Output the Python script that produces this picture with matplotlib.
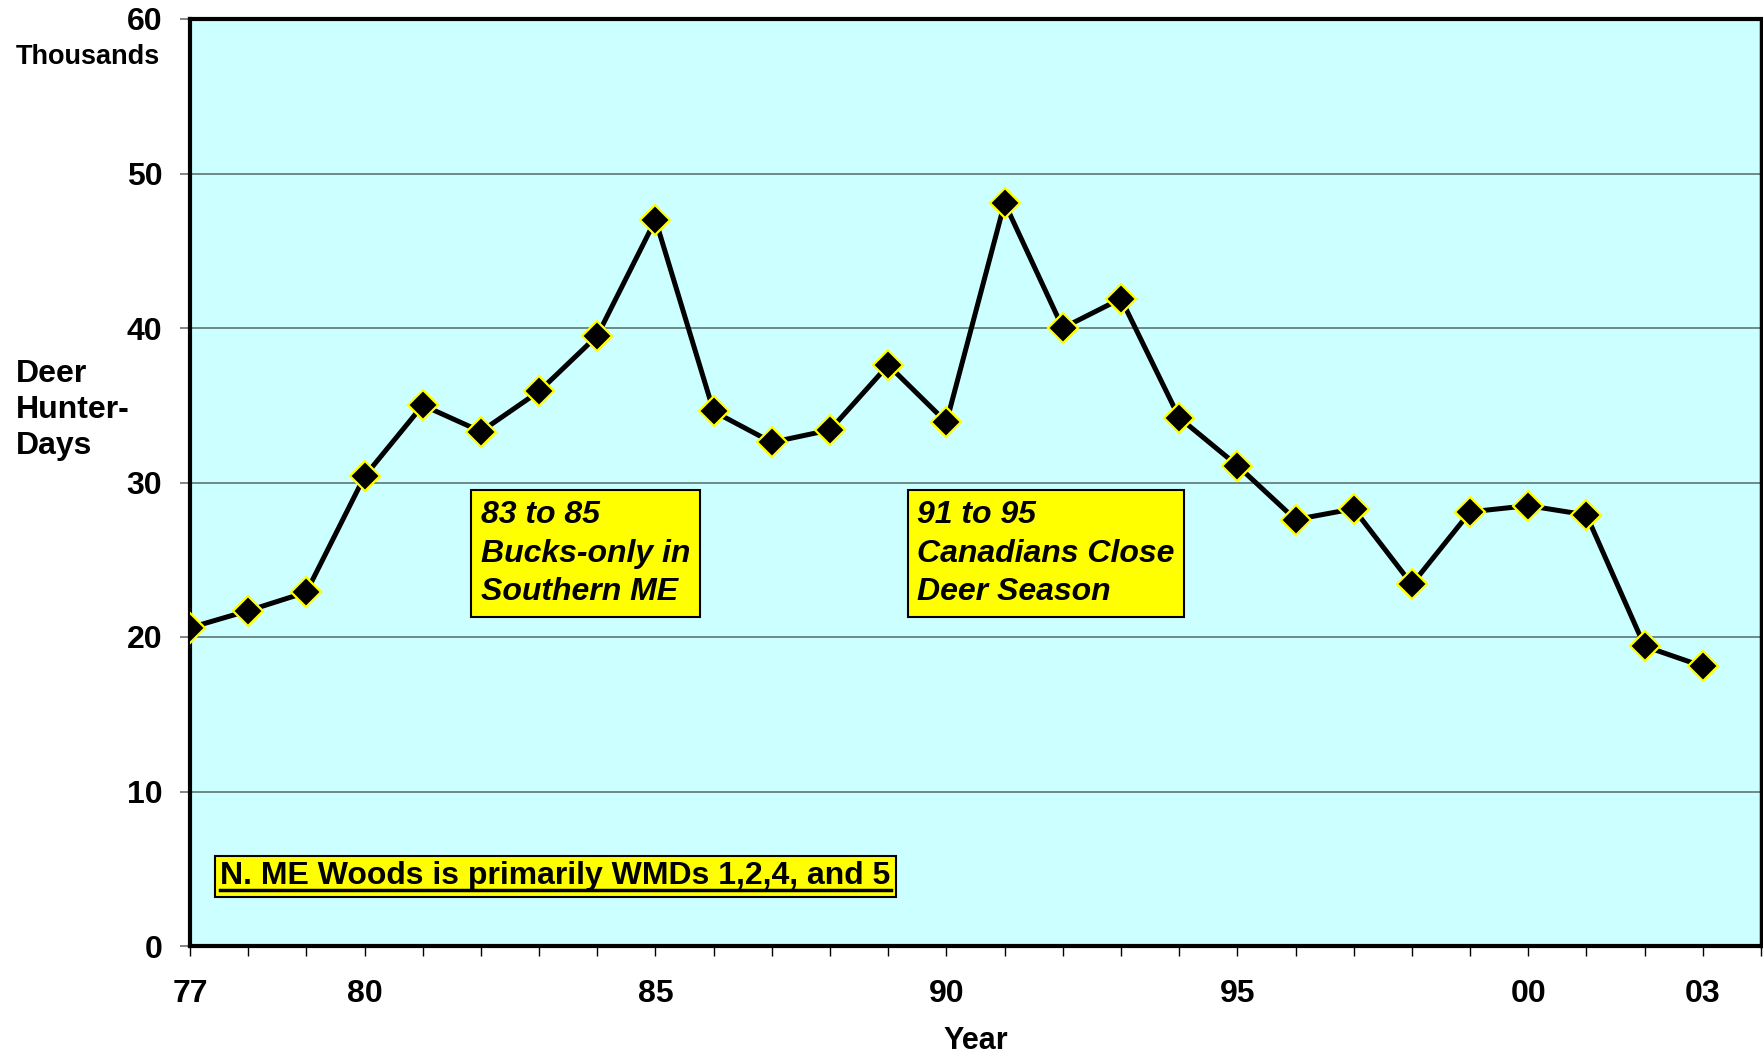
import matplotlib
matplotlib.use("Agg")
import matplotlib.pyplot as plt
from matplotlib.lines import Line2D

plt.rcParams["font.family"] = ["Liberation Sans", "DejaVu Sans"]
plt.rcParams["font.weight"] = "bold"
plt.rcParams["axes.labelweight"] = "bold"

# Данные: охотничьи дни (тыс.) по годам
years = list(range(1977, 2004))
hunter_days = [20.6, 21.7, 22.9, 30.4, 35.0, 33.3, 35.9, 39.5, 47.0, 34.6,
               32.6, 33.4, 37.6, 33.9, 48.1, 40.0, 41.9, 34.2, 31.1, 27.6,
               28.3, 23.4, 28.1, 28.5, 27.9, 19.4, 18.1]
tick_years = [1977, 1980, 1985, 1990, 1995, 2000, 2003]
tick_labels = ["77", "80", "85", "90", "95", "00", "03"]
y_ticks = [0, 10, 20, 30, 40, 50, 60]

fig = plt.figure(figsize=(17.63, 10.56), dpi=100)
ax = fig.add_axes([190 / 1763, 1 - 946 / 1056, 1571 / 1763, 927 / 1056])
ax.set_facecolor("#ccffff")

ax.plot(years, hunter_days, color="black", linewidth=3.6, marker="D",
        markersize=15, markerfacecolor="black", markeredgecolor="#ffff00",
        markeredgewidth=1.6, zorder=3)

ax.set_xlim(1977, 2004)
ax.set_ylim(0, 60)
ax.set_yticks(y_ticks)
ax.set_yticklabels([str(v) for v in y_ticks])
ax.set_xticks(years + [2004], minor=True)
ax.set_xticks(tick_years)
ax.set_xticklabels(tick_labels)

ax.yaxis.grid(True, color="#5f7373", linewidth=1.2)
ax.set_axisbelow(True)

ax.tick_params(axis="y", labelsize=23, length=7, width=1.2, color="#707070", pad=13)
ax.tick_params(axis="x", which="both", length=7, width=1, color="black")
ax.tick_params(axis="x", which="major", labelsize=23, pad=17)
ax.tick_params(axis="x", which="minor", labelbottom=False)

for side in ["left", "top", "bottom"]:
    ax.spines[side].set_linewidth(3)
ax.spines["right"].set_linewidth(2.5)

ax.set_xlabel("Year", fontsize=22, labelpad=12)

fig.text(16 / 1763, 1 - 57 / 1056, "Thousands", fontsize=19.5, va="center", ha="left")
fig.text(16 / 1763, 1 - 410 / 1056, "Deer\nHunter-\nDays", fontsize=23,
         va="center", ha="left", linespacing=1.25)

# Подписи-пояснения
box = dict(boxstyle="square,pad=0.3", facecolor="#ffff00", edgecolor="black", linewidth=1.5)
ax.text(1982.0, 25.4, "83 to 85\nBucks-only in\nSouthern ME", fontsize=23,
        fontstyle="italic", va="center", ha="left", linespacing=1.38, bbox=box)
ax.text(1989.5, 25.4, "91 to 95\nCanadians Close\nDeer Season", fontsize=23,
        fontstyle="italic", va="center", ha="left", linespacing=1.38, bbox=box)
note = ax.text(1977.52, 4.5, "N. ME Woods is primarily WMDs 1,2,4, and 5", fontsize=23,
               va="center", ha="left",
               bbox=dict(boxstyle="square,pad=0.18", facecolor="#ffff00",
                         edgecolor="black", linewidth=1.5))

# подчёркивание текста в нижней рамке
fig.canvas.draw()
ext = note.get_window_extent(fig.canvas.get_renderer())
W, H = fig.bbox.width, fig.bbox.height
fig.add_artist(Line2D([ext.x0 / W, ext.x1 / W], [(ext.y0 + 1) / H, (ext.y0 + 1) / H],
                      color="black", linewidth=2.5, transform=fig.transFigure, zorder=10))

fig.savefig("out.png", dpi=100)
